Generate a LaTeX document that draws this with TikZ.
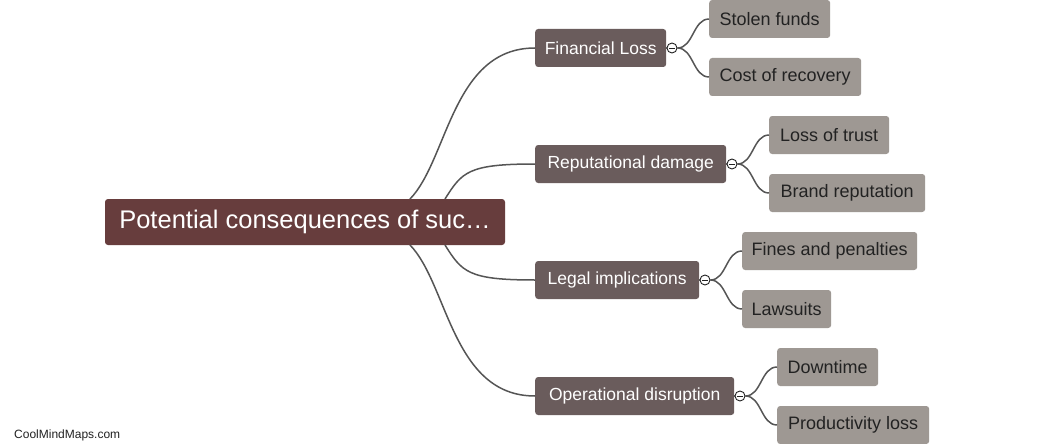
\documentclass[tikz,border=0pt]{standalone}
\usepackage{fontspec}
\setmainfont{Liberation Sans}
\usetikzlibrary{calc}
\definecolor{rootc}{HTML}{673D3D}
\definecolor{lonec}{HTML}{6A5C5C}
\definecolor{ltwoc}{HTML}{9E9893}
\definecolor{linec}{HTML}{555555}
\definecolor{txtc}{HTML}{222222}
\tikzset{
  rootbox/.style={fill=rootc, text=white, rounded corners=3pt, minimum height=46pt, inner sep=0pt, font=\fontsize{25.5}{27}\selectfont},
  onebox/.style={fill=lonec, text=white, rounded corners=3pt, minimum height=38pt, inner sep=0pt, anchor=west, font=\fontsize{17.5}{19}\selectfont},
  twobox/.style={fill=ltwoc, text=txtc, rounded corners=3pt, minimum height=38pt, inner sep=0pt, anchor=west, font=\fontsize{18}{20}\selectfont},
  conn/.style={draw=linec, line width=1.5pt},
  tog/.style={circle, draw=txtc, fill=white, line width=0.9pt, minimum size=10pt, inner sep=0pt},
}
\begin{document}
\begin{tikzpicture}[x=1pt,y=-1pt]
\useasboundingbox[fill=white] (0,0) rectangle (1045,444);
% root
\node[rootbox, minimum width=400pt] (root) at (305,222) {Potential consequences of suc…};
\coordinate (ra) at (410,199);
\coordinate (rb) at (445,199);
\coordinate (rc) at (445,245);
\coordinate (rd) at (410,245);
% level 1
\node[onebox, minimum width=131pt] (fl) at (535,48) {Financial Loss};
\node[onebox, minimum width=191pt] (rd1) at (535,164) {Reputational damage};
\node[onebox, minimum width=164pt] (li) at (535,280) {Legal implications};
\node[onebox, minimum width=199pt] (od) at (535,396) {Operational disruption};
% level 2
\node[twobox, minimum width=121pt] (sf) at (709,19) {Stolen funds};
\node[twobox, minimum width=152pt] (cr) at (709,77) {Cost of recovery};
\node[twobox, minimum width=120pt] (lt) at (769,135) {Loss of trust};
\node[twobox, minimum width=156pt] (br) at (769,193) {Brand reputation};
\node[twobox, minimum width=175pt] (fp) at (742,251) {Fines and penalties};
\node[twobox, minimum width=89pt] (ls) at (742,309) {Lawsuits};
\node[twobox, minimum width=101pt] (dt) at (777,367) {Downtime};
\node[twobox, minimum width=152pt] (pl) at (777,425) {Productivity loss};
% root connectors
\draw[conn] (ra) .. controls (448,160) and (452,48) .. (fl.west);
\draw[conn] (rb) .. controls (462,172) and (468,164) .. (rd1.west);
\draw[conn] (rc) .. controls (462,272) and (468,280) .. (li.west);
\draw[conn] (rd) .. controls (448,284) and (452,396) .. (od.west);
% toggles
\node[tog] (t1) at (672,48) {};
\node[tog] (t2) at (732,164) {};
\node[tog] (t3) at (705,280) {};
\node[tog] (t4) at (740,396) {};
\foreach \t in {t1,t2,t3,t4}{
  \draw[txtc, line width=0.9pt] ([xshift=-2.8pt]\t.center) -- ([xshift=2.8pt]\t.center);
}
\draw[conn] (fl.east) -- (t1.west);
\draw[conn] (rd1.east) -- (t2.west);
\draw[conn] (li.east) -- (t3.west);
\draw[conn] (od.east) -- (t4.west);
% child connectors
\foreach \t/\a/\b in {t1/sf/cr, t2/lt/br, t3/fp/ls, t4/dt/pl}{
  \draw[conn] (\t.east) .. controls +(16,0) and +(-16,0) .. (\a.west);
  \draw[conn] (\t.east) .. controls +(16,0) and +(-16,0) .. (\b.west);
}
% watermark
\node[anchor=west, text=txtc, font=\fontsize{12}{14}\selectfont, inner sep=0pt] (wm) at (14,435) {CoolMindMaps.com};
\end{tikzpicture}
\end{document}
